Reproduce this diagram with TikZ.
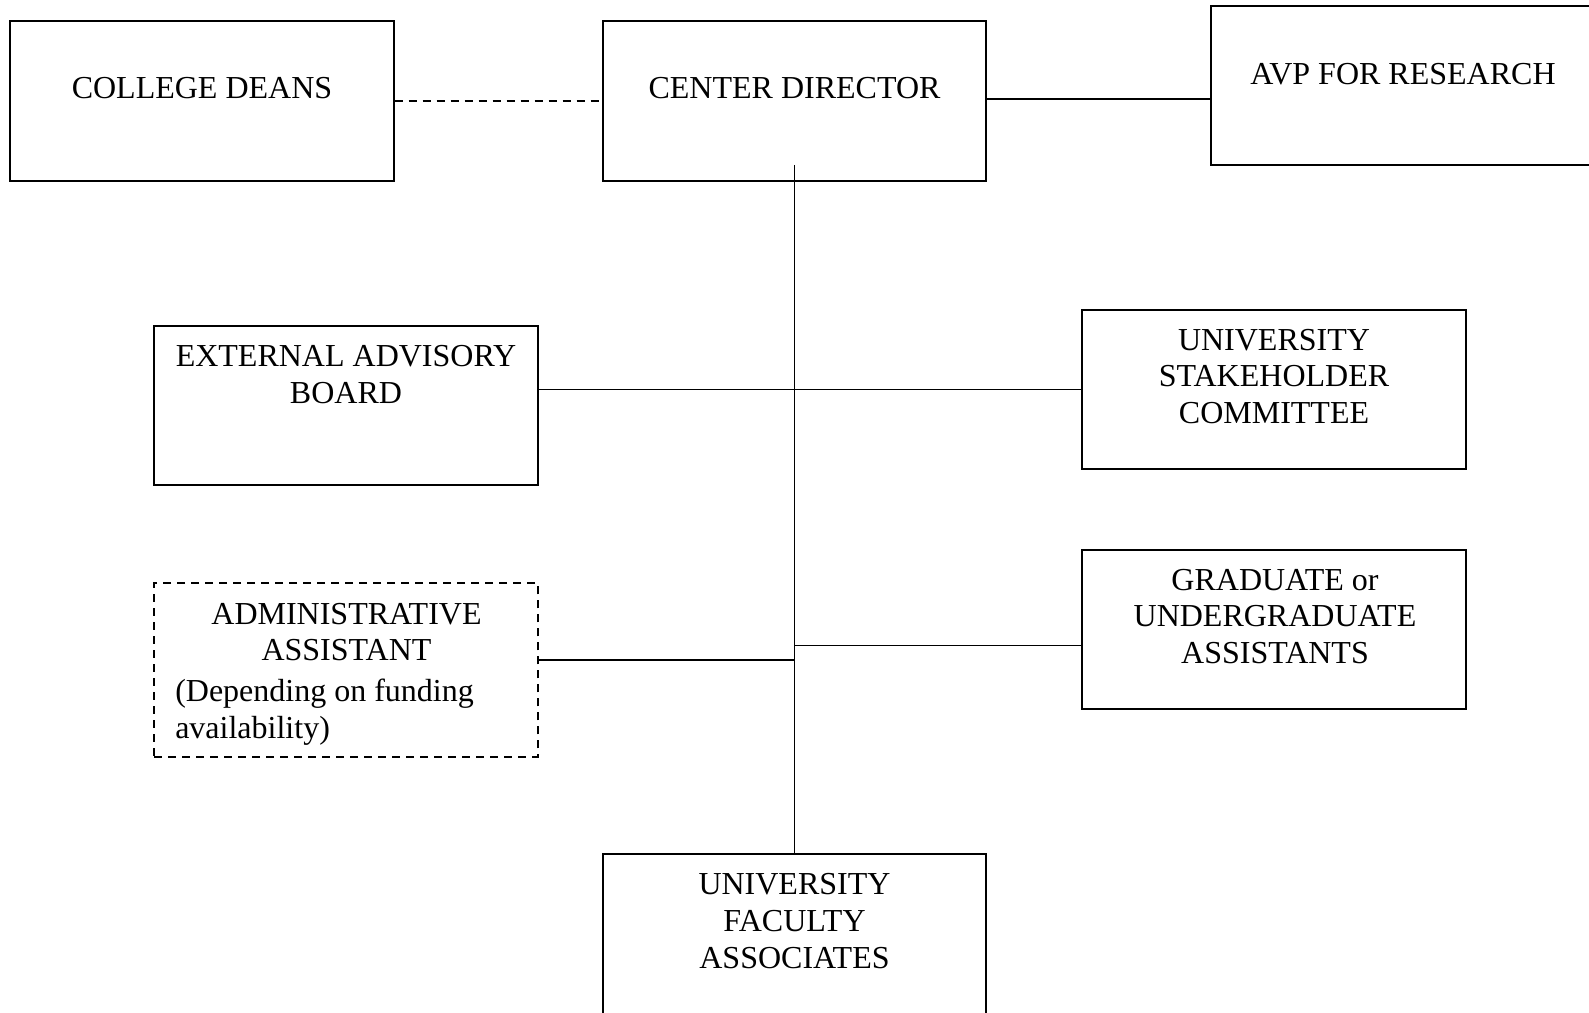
\documentclass[tikz,border=0pt]{standalone}
\usepackage{fontspec}
\setmainfont{Liberation Serif}
\begin{document}
\begin{tikzpicture}[x=0.75pt,y=-0.75pt,
  box/.style={draw,line width=1.4pt,minimum width=287.5pt,minimum height=119.5pt,inner sep=0pt},
  dbox/.style={box,dash pattern=on 6pt off 4.5pt},
  txt/.style={font=\fontsize{24}{27.6}\selectfont,align=center,inner sep=0pt},
  conn/.style={line width=1.4pt},
  dconn/.style={conn,dash pattern=on 6pt off 4.5pt}]
\useasboundingbox (0,0) rectangle (1589,1013);
% boxes
\node[box] (deans) at (202,101) {};
\node[box] (director) at (794.5,101) {};
\node[box] (avp) at (1402.5,85.5) {};
\node[box] (eab) at (346,405.5) {};
\node[box] (usc) at (1274,389.5) {};
\node[dbox,minimum height=130.5pt] (admin) at (346,670) {};
\node[box] (grad) at (1274,629.5) {};
\node[box,minimum height=122pt] (faculty) at (794.5,935) {};
% texts
\node[txt] (tdeans) at (202,88) {COLLEGE DEANS};
\node[txt] (tdirector) at (794.5,88) {CENTER DIRECTOR};
\node[txt] (tavp) at (1403,74) {AVP FOR RESEARCH};
\node[txt] (teab) at (346,374.5) {EXTERNAL ADVISORY\\BOARD};
\node[txt] (tusc) at (1274,376.5) {UNIVERSITY\\STAKEHOLDER\\COMMITTEE};
\node[txt] (tadmin) at (346.5,632) {ADMINISTRATIVE\\ASSISTANT};
\node[txt,anchor=base west] (tadmin2) at (175,701) {(Depending on funding};
\node[txt,anchor=base west] (tadmin3) at (175,738) {availability)};
\node[txt] (tgrad) at (1275,616.5) {GRADUATE or\\UNDERGRADUATE\\ASSISTANTS};
\node[txt] (tfaculty) at (794.5,921) {UNIVERSITY\\FACULTY\\ASSOCIATES};
% connectors
\coordinate (vtop) at (794.5,165);
\coordinate (jadmin) at (794.5,660);
\coordinate (jgrad) at (794.5,645.5);
\draw[dconn] (deans.east) -- (director.west);
\draw[conn] ([yshift=1.5pt]director.east) -- ([yshift=1.5pt]director.east -| avp.west);
\draw[conn] (vtop) -- (faculty.north);
\draw[conn] (usc.west) -- (usc.west -| eab.east);
\draw[conn] (jadmin) -- (jadmin -| admin.east);
\draw[conn] (jgrad) -- (jgrad -| grad.west);
\end{tikzpicture}
\end{document}
